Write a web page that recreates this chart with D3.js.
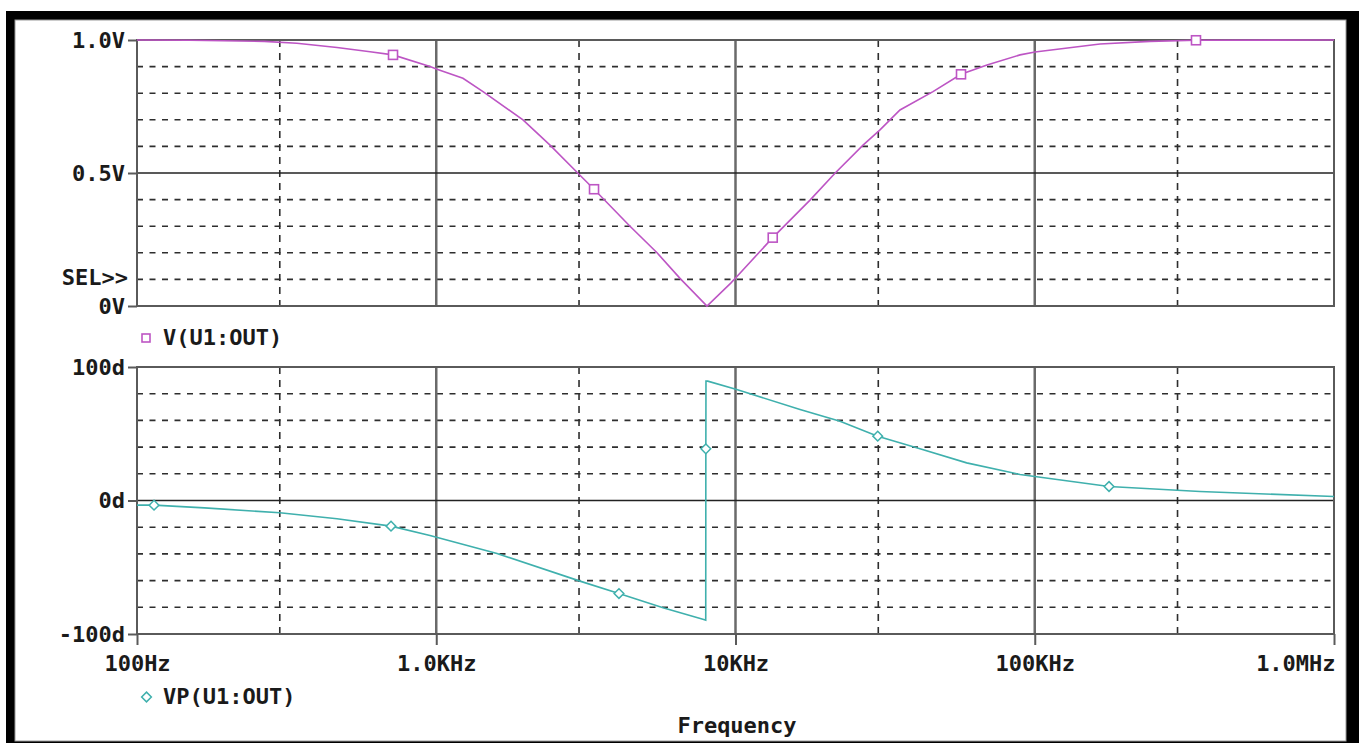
<!DOCTYPE html>
<html>
<head>
<meta charset="utf-8">
<script src="https://cdn.jsdelivr.net/npm/d3@7"></script>
<style>
  html, body { margin: 0; padding: 0; background: #ffffff; }
  svg { display: block; }
  text { font-family: "DejaVu Sans Mono", "Liberation Mono", monospace; font-weight: bold; font-size: 22px; fill: #1a1a1a; }
</style>
</head>
<body>
<svg id="chart" width="1359" height="743"></svg>
<script>
// ---------- DATA ----------
// Magnitude trace V(U1:OUT)
const magFreq = [100, 150, 266, 342, 466, 601, 717, 953, 1006, 1228, 1433, 1949, 2400, 2976, 3367, 4441, 5468, 6525, 8030, 9643, 10093, 13317, 17742, 21500, 26680, 30400, 35450, 45700, 56700, 69260, 89280, 100200, 165200, 242700, 345800, 1000000];
const magVolt = [1.0, 0.999, 0.995, 0.988, 0.972, 0.956, 0.944, 0.900, 0.89, 0.856, 0.806, 0.70, 0.605, 0.499, 0.439, 0.30, 0.20, 0.104, 0.0, 0.086, 0.11, 0.257, 0.398, 0.499, 0.605, 0.662, 0.737, 0.806, 0.871, 0.906, 0.944, 0.955, 0.985, 0.995, 0.999, 1.0];
// Magnitude markers (squares)
const magMarkFreq = [717, 3367, 13317, 56700, 345800];
const magMarkVolt = [0.944, 0.439, 0.257, 0.871, 0.999];

// Phase trace VP(U1:OUT)
const phaseFreq = [100, 114, 168, 300, 466, 706, 953, 1596, 3022, 4079, 5726, 7831, 7953, 7960, 7968, 8076, 10093, 16430, 22350, 29870, 41350, 59230, 89280, 177100, 356600, 1000000];
const phaseDeg  = [-3.5, -3.5, -5.5, -9.2, -13.7, -19.2, -26.2, -39.7, -60.4, -69.7, -80.4, -89.1, -89.6, 38.7, 89.5, 89.4, 83.1, 68.2, 59.4, 48.2, 38.7, 28.2, 19.5, 10.5, 6.7, 3.0];
// Phase markers (diamonds)
const phaseMarkFreq = [114, 706, 4079, 7960, 29870, 177100];
const phaseMarkDeg  = [-3.5, -19.2, -69.7, 38.7, 48.2, 10.5];

// Axis ticks and labels
const xTickValues = [100, 1000, 10000, 100000, 1000000];
const xTickLabels = ["100Hz", "1.0KHz", "10KHz", "100KHz", "1.0MHz"];
const xGridSolid  = [1000, 10000, 100000];
const xGridDashed = [300, 3000, 30000, 300000];

const magTickValues = [0, 0.5, 1.0];
const magTickLabels = ["0V", "0.5V", "1.0V"];
const magGridSolid  = [0.5];
const magGridDashed = [0.1, 0.2, 0.3, 0.4, 0.6, 0.7, 0.8, 0.9];

const phaseTickValues = [-100, 0, 100];
const phaseTickLabels = ["-100d", "0d", "100d"];
const phaseGridSolid  = [0];
const phaseGridDashed = [-80, -60, -40, -20, 20, 40, 60, 80];

const magLegend = "V(U1:OUT)";
const phaseLegend = "VP(U1:OUT)";
const xTitle = "Frequency";
const selLabel = "SEL>>";

// ---------- LAYOUT ----------
const svg = d3.select("#chart");
const L = 137, R = 1334;
const topPanel = { top: 40, bottom: 306 };
const botPanel = { top: 367, bottom: 634 };
const magColor = "#bd55c4";
const phaseColor = "#3fb0ad";
const gridColor = "#2e2e2e";
const frameColor = "#5a5a5a";

// outer black frame
svg.append("rect").attr("x", 6).attr("y", 11).attr("width", 1353).attr("height", 740).attr("fill", "#000");
svg.append("rect").attr("x", 15).attr("y", 20).attr("width", 1331).attr("height", 721).attr("fill", "#fff")
   .attr("stroke", "#9a9a9a").attr("stroke-width", 1);

const x = d3.scaleLog().domain([100, 1e6]).range([L, R]);
const yMag = d3.scaleLinear().domain([0, 1]).range([topPanel.bottom, topPanel.top]);
const yPh = d3.scaleLinear().domain([-100, 100]).range([botPanel.bottom, botPanel.top]);

function drawPanel(y, panel, gSolid, gDashed) {
  const g = svg.append("g");
  // dashed horizontal grid
  g.selectAll(".hd").data(gDashed).join("line")
    .attr("x1", L).attr("x2", R).attr("y1", d => y(d)).attr("y2", d => y(d))
    .attr("stroke", gridColor).attr("stroke-width", 1.6).attr("stroke-dasharray", "6,6.5");
  // dashed vertical grid
  g.selectAll(".vd").data(xGridDashed).join("line")
    .attr("x1", d => x(d)).attr("x2", d => x(d)).attr("y1", panel.top).attr("y2", panel.bottom)
    .attr("stroke", gridColor).attr("stroke-width", 1.6).attr("stroke-dasharray", "7,6");
  // solid vertical grid (decades)
  g.selectAll(".vs").data(xGridSolid).join("line")
    .attr("x1", d => x(d)).attr("x2", d => x(d)).attr("y1", panel.top).attr("y2", panel.bottom)
    .attr("stroke", "#6a6a6a").attr("stroke-width", 2.5);
  // solid horizontal grid
  g.selectAll(".hs").data(gSolid).join("line")
    .attr("x1", L).attr("x2", R).attr("y1", d => y(d)).attr("y2", d => y(d))
    .attr("stroke", "#222").attr("stroke-width", 1.6);
  // frame
  g.append("rect").attr("x", L).attr("y", panel.top).attr("width", R - L).attr("height", panel.bottom - panel.top)
    .attr("fill", "none").attr("stroke", frameColor).attr("stroke-width", 2);
}
drawPanel(yMag, topPanel, magGridSolid, magGridDashed);
drawPanel(yPh, botPanel, phaseGridSolid, phaseGridDashed);

// y axes
function styleAxis(g) {
  g.select(".domain").remove();
  g.selectAll(".tick line").attr("stroke", frameColor).attr("stroke-width", 2);
  g.selectAll(".tick text").attr("fill", "#1a1a1a").attr("font-size", 22)
    .attr("font-family", "DejaVu Sans Mono, monospace").attr("font-weight", "bold");
}
const magAxis = d3.axisLeft(yMag).tickValues(magTickValues).tickSize(9).tickPadding(3)
  .tickFormat((d, i) => magTickLabels[i]);
svg.append("g").attr("transform", `translate(${L},0)`).call(magAxis).call(styleAxis)
  .selectAll(".tick text").attr("dy", "0.34em");

const phAxis = d3.axisLeft(yPh).tickValues(phaseTickValues).tickSize(9).tickPadding(3)
  .tickFormat((d, i) => phaseTickLabels[i]);
svg.append("g").attr("transform", `translate(${L},0)`).call(phAxis).call(styleAxis)
  .selectAll(".tick text").attr("dy", "0.34em");

// x axis
const xAxis = d3.axisBottom(x).tickValues(xTickValues).tickSize(11).tickPadding(10)
  .tickFormat((d, i) => xTickLabels[i]);
const xg = svg.append("g").attr("transform", `translate(0,${botPanel.bottom})`).call(xAxis).call(styleAxis);
xg.selectAll(".tick text").attr("text-anchor", (d, i) => i === xTickValues.length - 1 ? "end" : "middle")
  .attr("dx", (d, i) => i === xTickValues.length - 1 ? "0.05em" : 0);

// SEL>> label
svg.append("text").attr("x", 128).attr("y", 285).attr("text-anchor", "end").text(selLabel);

// traces
const magLine = d3.line().x((d, i) => x(magFreq[i])).y(d => yMag(d));
svg.append("path").datum(magVolt).attr("d", magLine).attr("fill", "none")
  .attr("stroke", magColor).attr("stroke-width", 1.6);

const phLine = d3.line().x((d, i) => x(phaseFreq[i])).y(d => yPh(d));
svg.append("path").datum(phaseDeg).attr("d", phLine).attr("fill", "none")
  .attr("stroke", phaseColor).attr("stroke-width", 1.6);

// markers
const sq = 9;
svg.selectAll(".msq").data(magMarkFreq).join("rect")
  .attr("x", d => x(d) - sq / 2).attr("y", (d, i) => yMag(magMarkVolt[i]) - sq / 2)
  .attr("width", sq).attr("height", sq)
  .attr("fill", "#fff").attr("stroke", magColor).attr("stroke-width", 1.6);

const diamond = d3.symbol().type(d3.symbolDiamond2).size(60);
svg.selectAll(".mdi").data(phaseMarkFreq).join("path")
  .attr("d", diamond)
  .attr("transform", (d, i) => `translate(${x(d)},${yPh(phaseMarkDeg[i])})`)
  .attr("fill", "#fff").attr("stroke", phaseColor).attr("stroke-width", 1.5);

// legends
svg.append("rect").attr("x", 142).attr("y", 334).attr("width", 8).attr("height", 8)
  .attr("fill", "#fff").attr("stroke", magColor).attr("stroke-width", 1.6);
svg.append("text").attr("x", 163).attr("y", 345).text(magLegend);

svg.append("path").attr("d", diamond).attr("transform", "translate(146.5,697)")
  .attr("fill", "#fff").attr("stroke", phaseColor).attr("stroke-width", 1.5);
svg.append("text").attr("x", 163).attr("y", 704).text(phaseLegend);

// x title
svg.append("text").attr("x", 737).attr("y", 733).attr("text-anchor", "middle").text(xTitle);
</script>
</body>
</html>
